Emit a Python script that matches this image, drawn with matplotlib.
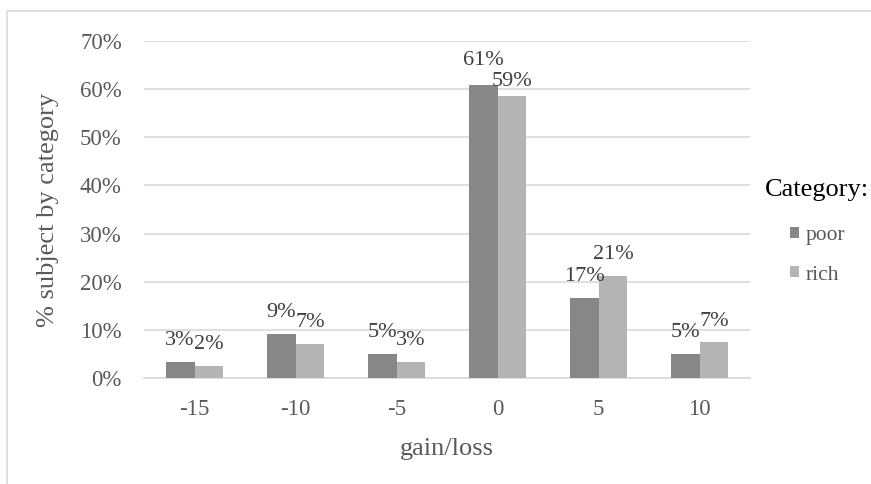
import matplotlib
matplotlib.use("Agg")
import matplotlib.pyplot as plt
import numpy as np
from matplotlib.patches import Rectangle

plt.rcParams['font.family'] = ['Liberation Serif', 'DejaVu Serif']

categories = ["-15", "-10", "-5", "0", "5", "10"]
poor = [3.3, 9.1, 5.0, 60.8, 16.6, 5.0]
rich = [2.5, 7.0, 3.3, 58.6, 21.2, 7.4]
series_names = ["poor", "rich"]
colors = ["#878787", "#b4b4b4"]
text_gray = "#595959"

# label offsets (points above bar top); the two tall bars at 0 are staggered
label_offset = 8.5
label_offset_override = {("poor", "0"): 11.0, ("rich", "0"): 3.5}

fig = plt.figure(figsize=(8.71, 4.84), dpi=100)
# chart frame
fig.patches.append(Rectangle((7 / 871, -0.1), 1.2, (484 - 11) / 484 + 0.1,
                             transform=fig.transFigure, fill=False,
                             edgecolor="#d9d9d9", linewidth=1.2))

ax = fig.add_axes([144 / 871, 1 - 378 / 484, (750 - 144) / 871, (378 - 41) / 484])
x = np.arange(len(categories))
w = 0.285
bars = []
for i, (vals, name, c) in enumerate(zip([poor, rich], series_names, colors)):
    b = ax.bar(x + (i - 0.5) * w, vals, width=w, color=c, label=name, zorder=3)
    bars.append(b)
    for xi, v, cat in zip(x + (i - 0.5) * w, vals, categories):
        off = label_offset_override.get((name, cat), label_offset)
        ax.annotate(f"{round(v):d}%", xy=(xi, v), xytext=(0, off),
                    textcoords="offset points", ha="center", va="bottom",
                    fontsize=16, color="#404040", zorder=4)

ax.set_xlim(-0.5, len(categories) - 0.5)
ax.set_ylim(0, 70)
ax.set_yticks(np.arange(0, 71, 10))
ax.set_yticklabels([f"{t}%" for t in range(0, 71, 10)])
ax.set_xticks(x)
ax.set_xticklabels(categories)
ax.tick_params(axis="both", length=0, labelsize=16.5, labelcolor=text_gray)
ax.tick_params(axis="x", pad=15)
ax.tick_params(axis="y", pad=16)
ax.grid(axis="y", color="#d9d9d9", linewidth=1.2, zorder=0)
for s in ["top", "right", "left"]:
    ax.spines[s].set_visible(False)
ax.spines["bottom"].set_color("#d9d9d9")
ax.spines["bottom"].set_linewidth(1.2)

ax.set_ylabel("% subject by category", fontsize=19, color=text_gray, labelpad=15)
ax.set_xlabel("gain/loss", fontsize=19, color=text_gray, labelpad=13)

fig.text(765 / 871, 1 - 190 / 484, "Category:", fontsize=19, color="black",
         ha="left", va="center")
leg = fig.legend(handles=bars, labels=series_names,
                 loc="upper left", bbox_to_anchor=(775 / 871, 1 - 211 / 484),
                 frameon=False, fontsize=15.5,
                 handlelength=0.42, handleheight=0.42, handletextpad=0.3,
                 labelspacing=0.95, labelcolor=text_gray, borderpad=0.2)

fig.savefig("out.png", dpi=100)
